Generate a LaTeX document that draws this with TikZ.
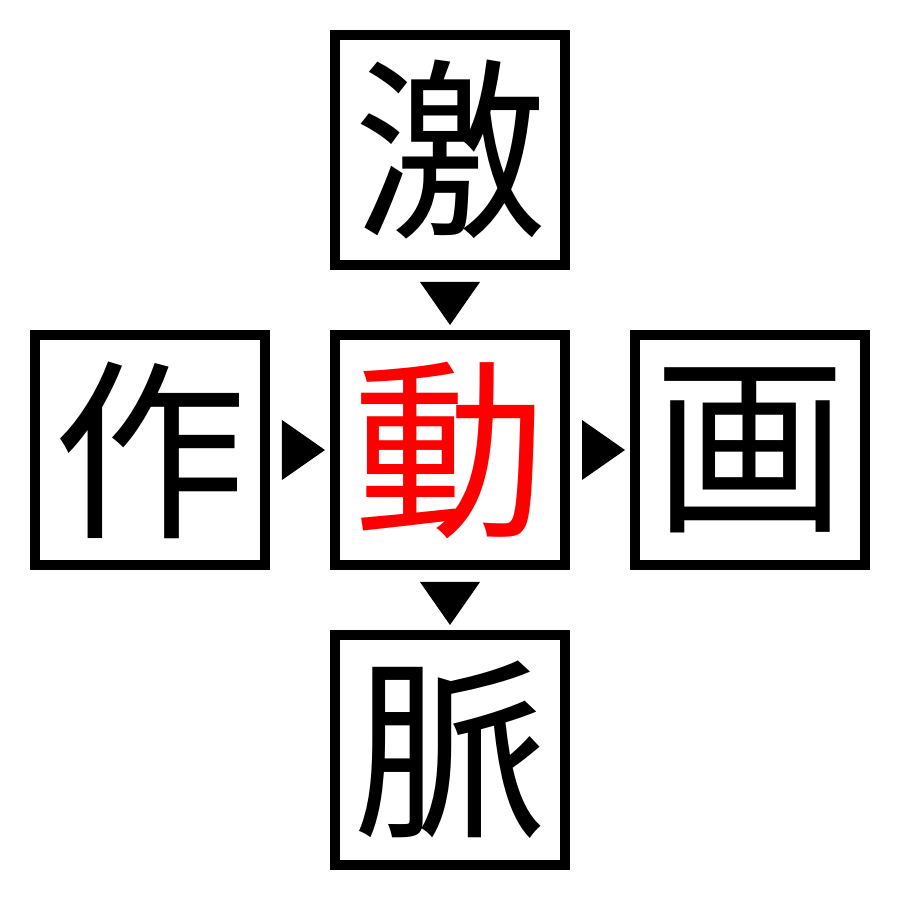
\documentclass[tikz,border=0pt]{standalone}
\usepackage{fontspec}
\usepackage{tikz}
\usetikzlibrary{positioning,calc}
\newfontfamily\jpfont{Noto Sans CJK JP}

\tikzset{
	kanji/.style={shape=rectangle,draw=black,line width=0.1cm,minimum size=2.3cm,inner sep=0pt,font=\jpfont\fontsize{55}{55}\selectfont},
	pointer/.style={fill=black}
}

\begin{document}
\begin{tikzpicture}[node distance=0.6cm]
	\useasboundingbox (0,0) rectangle (9,9);
	\node[kanji,text=red] (dou) at (4.5, 4.5) {動};
	\node[kanji] (geki) [above=of dou] {激};
	\node[kanji] (saku) [left=of dou]  {作};
	\node[kanji] (ga)   [right=of dou] {画};
	\node[kanji] (myaku) [below=of dou] {脈};
	% down pointers
	\path[pointer] ($(geki.south)+(-0.3,-0.12)$) -- ++(0.6,0) -- ++(-0.3,-0.43) -- cycle;
	\path[pointer] ($(dou.south)+(-0.3,-0.12)$) -- ++(0.6,0) -- ++(-0.3,-0.43) -- cycle;
	% right pointers
	\path[pointer] ($(saku.east)+(0.12,0.3)$) -- ++(0,-0.6) -- ++(0.43,0.3) -- cycle;
	\path[pointer] ($(dou.east)+(0.12,0.3)$) -- ++(0,-0.6) -- ++(0.43,0.3) -- cycle;
\end{tikzpicture}
\end{document}
